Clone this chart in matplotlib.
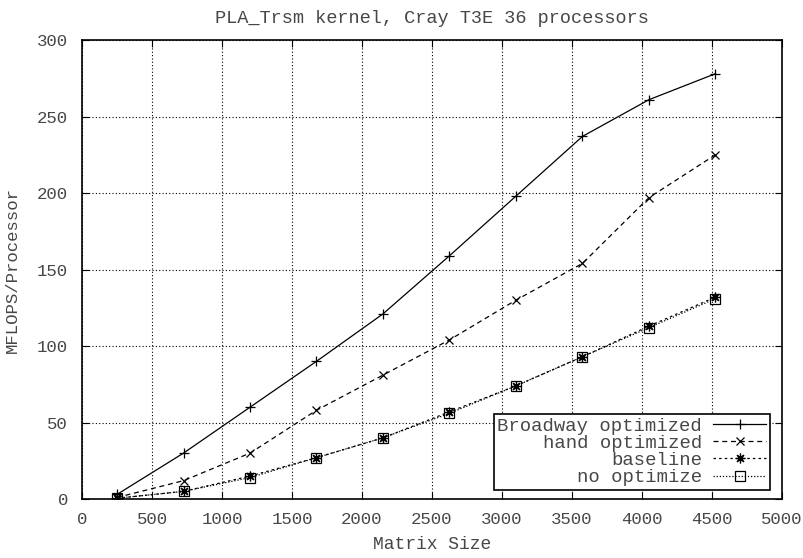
import matplotlib
matplotlib.use("Agg")
import matplotlib.pyplot as plt
import numpy as np

# Matrix sizes and MFLOPS/processor for each variant
sizes = [250, 725, 1200, 1675, 2150, 2625, 3100, 3575, 4050, 4525]
broadway = [3, 30, 60, 90, 121, 159, 198, 237, 261, 278]
hand = [1, 12, 30, 58, 81, 104, 130, 154, 197, 225]
baseline = [0.5, 5, 15, 27, 40, 57, 74, 93, 113, 132]
no_opt = [0.5, 5, 14, 27, 40, 56, 74, 93, 112, 131]

labels = ["Broadway optimized", "hand optimized", "baseline", "no optimize"]

plt.rcParams['font.family'] = ['Liberation Mono', 'DejaVu Sans Mono']
plt.rcParams['font.size'] = 13
txt = '#474747'

fig = plt.figure(figsize=(8.04, 5.58), dpi=100)
ax = fig.add_axes([0.102, 0.1057, 0.8706, 0.8226])

ax.plot(sizes, broadway, '-', color='black', lw=0.9, marker='+', ms=7, mew=0.9, label=labels[0])
ax.plot(sizes, hand, '--', dashes=(4, 3), color='black', lw=0.9, marker='x', ms=6, mew=0.9, label=labels[1])
ax.plot(sizes, baseline, '--', dashes=(2, 2.5), color='black', lw=0.9, marker=(8, 2, 0), ms=7, mew=0.9, label=labels[2])
ax.plot(sizes, no_opt, ':', dashes=(1, 1.5), color='black', lw=0.9, marker='s', ms=6.5, mew=0.9,
        mfc='none', label=labels[3])

ax.set_xlim(0, 5000)
ax.set_ylim(0, 300)
ax.set_xticks(np.arange(0, 5001, 500))
ax.set_yticks(np.arange(0, 301, 50))
ax.tick_params(axis='both', direction='in', length=5, top=True, right=True, colors='black',
               labelcolor=txt, labelsize=12.5)
ax.tick_params(axis='x', pad=9)
ax.tick_params(axis='y', pad=10)
ax.grid(True, linestyle=(0, (1, 2)), color='black', lw=0.8)
for s in ax.spines.values():
    s.set_linewidth(1.2)

ax.set_xlabel('Matrix Size', color=txt, fontsize=13, labelpad=7)
ax.set_ylabel('MFLOPS/Processor', color=txt, fontsize=12.5, labelpad=12)
ax.set_title('PLA_Trsm kernel, Cray T3E 36 processors', color=txt, fontsize=13.4, pad=12)

leg = ax.legend(loc='lower right', bbox_to_anchor=(0.983, 0.0196), markerfirst=False, numpoints=1,
                fancybox=False, edgecolor='black', framealpha=1, borderaxespad=0,
                handlelength=2.8, handletextpad=0.6, labelspacing=0.0, borderpad=0.2,
                fontsize=13.6)
leg.get_frame().set_linewidth(1.2)
for t in leg.get_texts():
    t.set_color(txt)

fig.savefig('out.png', dpi=100)
